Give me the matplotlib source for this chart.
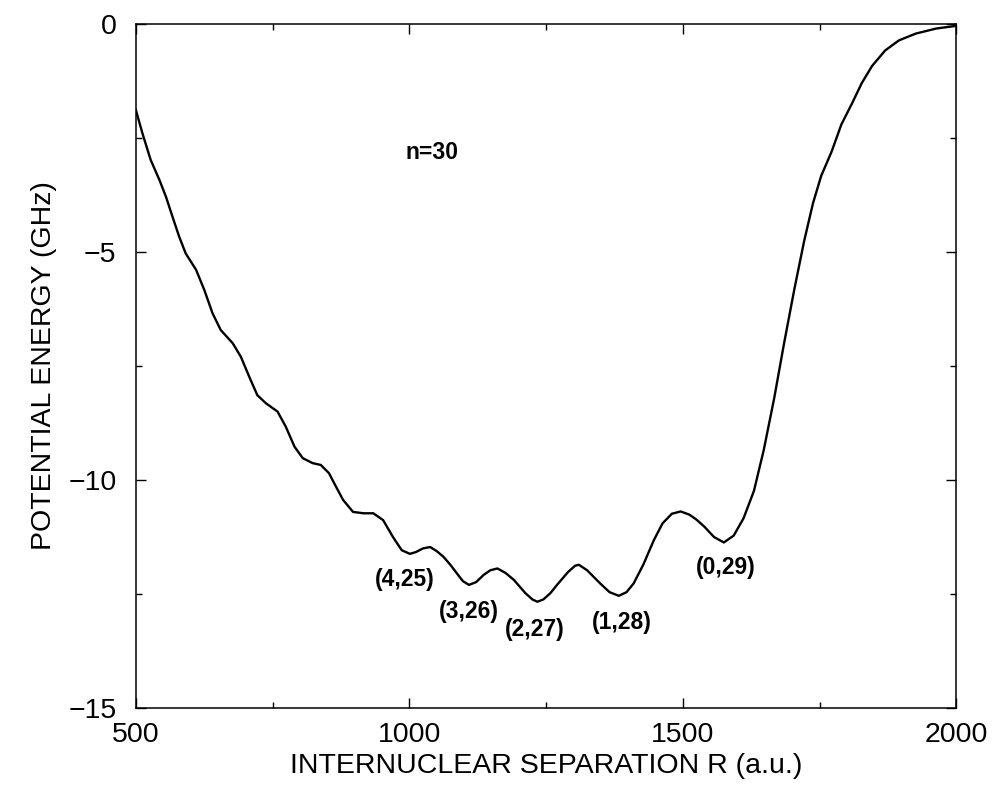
import matplotlib
matplotlib.use("Agg")
import matplotlib.pyplot as plt
from matplotlib.ticker import MultipleLocator

plt.rcParams["font.family"] = ["Liberation Sans", "DejaVu Sans"]

# potential curve, R in a.u., energy in GHz
r_au = [500, 512, 527, 543, 555, 567, 579, 591, 610, 625, 640, 655, 677, 692,
        707, 722, 738, 759, 774, 790, 805, 823, 838, 853, 866, 879, 897, 916,
        934, 952, 970, 986, 1001, 1012, 1025, 1038, 1050, 1062, 1075, 1087,
        1098, 1109, 1122, 1136, 1148, 1161, 1176, 1191, 1212, 1225, 1234, 1245,
        1258, 1270, 1290, 1303, 1310, 1325, 1349, 1366, 1383, 1397, 1410, 1428,
        1447, 1463, 1480, 1496, 1512, 1525, 1539, 1557, 1575, 1593, 1611, 1630,
        1648, 1667, 1685, 1704, 1722, 1738, 1753, 1772, 1790, 1809, 1827, 1846,
        1870, 1895, 1926, 1963, 2000]
energy_ghz = [-1.89, -2.40, -2.98, -3.42, -3.79, -4.23, -4.66, -5.03, -5.39,
              -5.83, -6.34, -6.71, -7.00, -7.30, -7.73, -8.14, -8.32, -8.50,
              -8.83, -9.27, -9.52, -9.63, -9.67, -9.85, -10.15, -10.44, -10.70,
              -10.73, -10.73, -10.88, -11.25, -11.54, -11.62, -11.58, -11.50,
              -11.47, -11.56, -11.68, -11.86, -12.05, -12.22, -12.30, -12.24,
              -12.08, -11.98, -11.94, -12.04, -12.19, -12.48, -12.62, -12.67,
              -12.62, -12.48, -12.30, -12.02, -11.88, -11.86, -11.98, -12.27,
              -12.46, -12.54, -12.46, -12.27, -11.85, -11.32, -10.95, -10.74,
              -10.69, -10.76, -10.87, -11.02, -11.25, -11.37, -11.22, -10.84,
              -10.24, -9.34, -8.21, -7.01, -5.81, -4.75, -3.93, -3.33, -2.80,
              -2.20, -1.75, -1.30, -0.92, -0.58, -0.36, -0.21, -0.10, -0.04]

# well labels (nu, l) and where they sit
well_labels = ["(4,25)", "(3,26)", "(2,27)", "(1,28)", "(0,29)"]
label_r = [991, 1108, 1230, 1388, 1579]
label_e = [-12.19, -12.89, -13.27, -13.13, -11.93]

fig = plt.figure(figsize=(9.92, 7.87), dpi=100)
ax = fig.add_axes([0.137, 0.1004, 0.827, 0.8691])
ax.plot(r_au, energy_ghz, color="black", lw=1.7, solid_joinstyle="round")

for txt, x, y in zip(well_labels, label_r, label_e):
    ax.text(x, y, txt, ha="center", va="center", fontsize=16.5, fontweight="bold")
ax.text(1041, -2.81, "n=30", ha="center", va="center", fontsize=16.5, fontweight="bold")

ax.set_xlim(500, 2000)
ax.set_ylim(-15, 0)
ax.xaxis.set_major_locator(MultipleLocator(500))
ax.xaxis.set_minor_locator(MultipleLocator(250))
ax.yaxis.set_major_locator(MultipleLocator(5))
ax.yaxis.set_minor_locator(MultipleLocator(2.5))
ax.tick_params(which="both", direction="in", top=True, right=True, width=1.0)
ax.tick_params(which="major", length=7.5, labelsize=20.5)
ax.tick_params(which="minor", length=4)
ax.tick_params(axis="x", which="major", pad=10)
ax.tick_params(axis="y", which="major", pad=14)
for sp in ax.spines.values():
    sp.set_linewidth(1.1)

ax.set_xlabel("INTERNUCLEAR SEPARATION R (a.u.)", fontsize=20.5, labelpad=4)
ax.set_ylabel("POTENTIAL ENERGY (GHz)", fontsize=20.5, labelpad=8)

fig.savefig("out.png", dpi=100)
plt.close(fig)
